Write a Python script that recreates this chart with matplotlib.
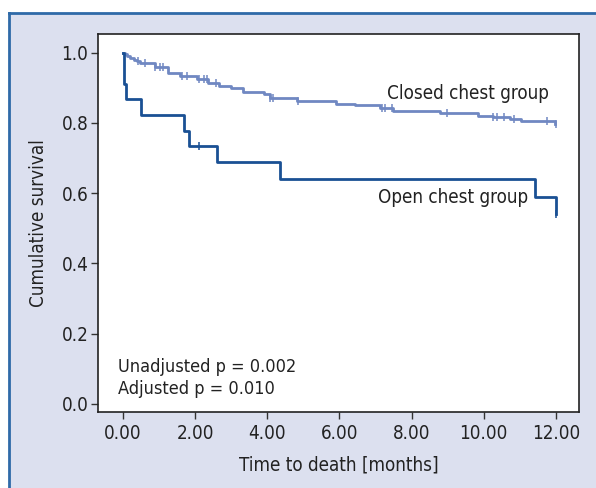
import numpy as np
import matplotlib
matplotlib.use('Agg')
import matplotlib.pyplot as plt
from matplotlib.patches import Rectangle
from matplotlib.lines import Line2D

plt.rcParams['font.family'] = ['DejaVu Sans']
plt.rcParams['font.stretch'] = 'condensed'

# Kaplan-Meier step data (time in months, survival)
closed_t = [0.0, 0.05, 0.12, 0.2, 0.3, 0.4, 0.48, 0.89, 1.26, 1.59, 2.05, 2.37, 2.65, 3.0,
            3.34, 3.90, 4.08, 4.82, 5.9, 6.44, 7.13, 7.49, 8.8, 9.83, 10.27, 10.74, 11.02, 11.98]
closed_s = [1.0, 0.995, 0.99, 0.985, 0.98, 0.975, 0.970, 0.958, 0.943, 0.934, 0.924, 0.913, 0.905, 0.898,
            0.889, 0.882, 0.870, 0.862, 0.855, 0.850, 0.842, 0.835, 0.827, 0.820, 0.816, 0.810, 0.806, 0.797]
closed_cens_t = [0.42, 0.62, 0.9, 1.03, 1.12, 1.63, 1.79, 2.11, 2.25, 2.33, 2.59, 4.08, 4.17,
                 4.86, 7.18, 7.27, 7.45, 8.99, 10.27, 10.36, 10.55, 10.85, 11.74, 11.99]

open_t = [0.0, 0.04, 0.08, 0.49, 1.69, 1.82, 2.62, 4.34, 11.42, 12.0]
open_s = [1.0, 0.912, 0.867, 0.822, 0.778, 0.733, 0.689, 0.640, 0.590, 0.540]
open_cens_t = [2.12, 12.0]

closed_color = '#7088c2'
open_color = '#1a5094'


def surv_at(times, surv, t):
    idx = np.searchsorted(times, t, side='right') - 1
    return surv[idx]


fig = plt.figure(figsize=(5.96, 4.88), dpi=100)
fig.patch.set_facecolor('white')

# light panel with blue top/left border
fig.patches.append(Rectangle((9 / 596, 0), 1, 1 - 12.5 / 488, transform=fig.transFigure,
                             facecolor='#dce0ef', edgecolor='none', zorder=-10))
fig.lines.append(Line2D([9 / 596, 9 / 596], [0, 1 - 12.5 / 488], transform=fig.transFigure,
                        color='#2f6aa8', lw=2, zorder=-5))
fig.lines.append(Line2D([9 / 596, 1], [1 - 12.5 / 488, 1 - 12.5 / 488], transform=fig.transFigure,
                        color='#2f6aa8', lw=2, zorder=-5))

ax = fig.add_axes([98 / 596, 1 - 412 / 488, (579 - 98) / 596, (412 - 34) / 488])
ax.set_facecolor('white')

ax.step(closed_t, closed_s, where='post', color=closed_color, lw=2)
ax.plot(closed_cens_t, [surv_at(closed_t, closed_s, t) for t in closed_cens_t],
        ls='none', marker='|', ms=6, mew=1.1, color=closed_color)
ax.step(open_t, open_s, where='post', color=open_color, lw=2)
ax.plot(open_cens_t, [surv_at(open_t, open_s, t) for t in open_cens_t],
        ls='none', marker='|', ms=6, mew=1.1, color=open_color)

ax.set_xlim(-0.69, 12.64)
ax.set_ylim(-0.023, 1.053)
ax.set_xticks(np.arange(0, 13, 2))
ax.set_xticklabels(['%.2f' % v for v in np.arange(0, 13, 2)])
ax.set_yticks(np.arange(0, 1.01, 0.2))
ax.set_yticklabels(['%.1f' % v for v in np.arange(0, 1.01, 0.2)])
ax.tick_params(labelsize=13.5, length=5, width=1, color='#333333', labelcolor='#222222')
ax.tick_params(axis='y', pad=2)
for sp in ax.spines.values():
    sp.set_color('#222222')
    sp.set_linewidth(1.2)

ax.set_xlabel('Time to death [months]', fontsize=13.5, color='#222222', labelpad=9)
ax.set_ylabel('Cumulative survival', fontsize=13.5, color='#222222', labelpad=10)

ax.text(7.33, 0.885, 'Closed chest group', fontsize=13.5, va='center', color='#222222')
ax.text(7.08, 0.589, 'Open chest group', fontsize=13.5, va='center', color='#222222')
ax.text(-0.13, 0.106, 'Unadjusted p = 0.002', fontsize=13, va='center', color='#222222')
ax.text(-0.13, 0.043, 'Adjusted p = 0.010', fontsize=13, va='center', color='#222222')

fig.savefig('out.png', dpi=100)
